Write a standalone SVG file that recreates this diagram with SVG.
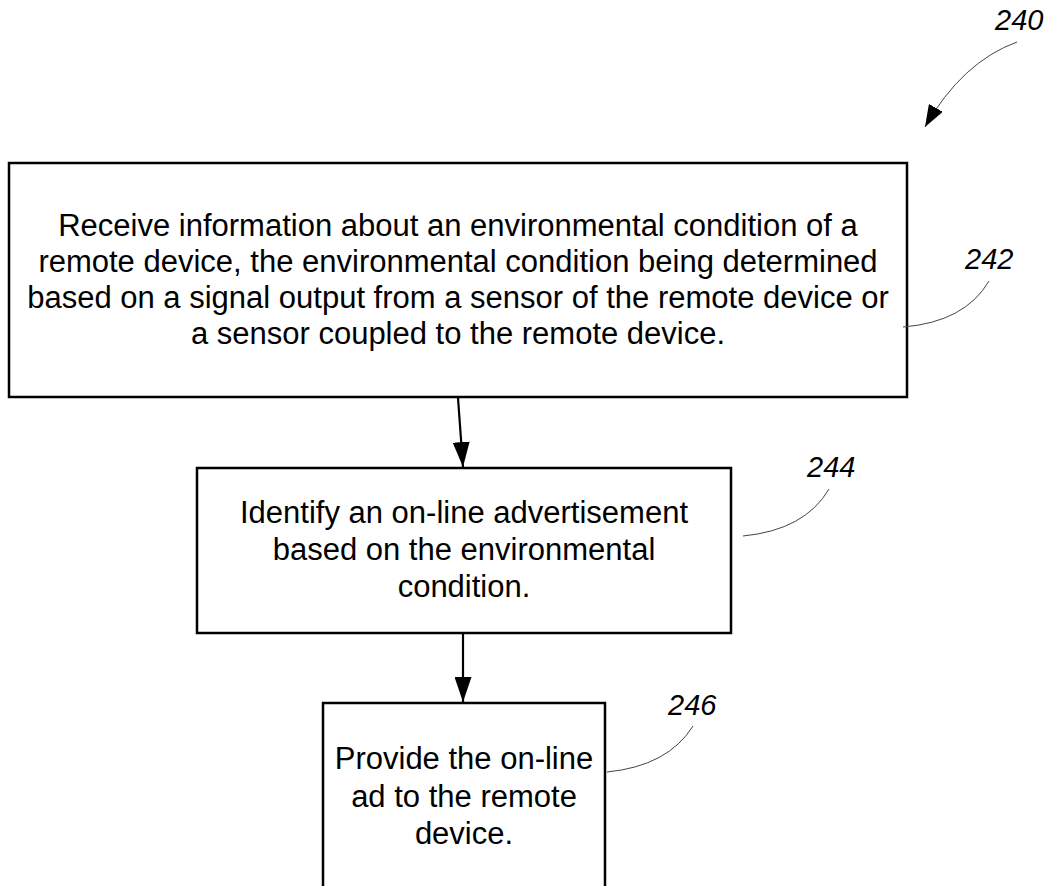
<svg xmlns="http://www.w3.org/2000/svg" width="1051" height="886" viewBox="0 0 1051 886">
<style>
.box{fill:#fff;stroke:#000;stroke-width:2.5}
.t{font-family:"Liberation Sans",Arial,sans-serif;font-size:31px;fill:#000;text-anchor:middle}
.lbl{font-family:"Liberation Sans",Arial,sans-serif;font-size:29px;font-style:italic;fill:#000}
.conn{fill:none;stroke:#000;stroke-width:2.2}
.lead{fill:none;stroke:#444;stroke-width:1}
</style>
<defs>
<marker id="ah" markerWidth="25" markerHeight="17" refX="25" refY="8.5" viewBox="0 0 25 17" markerUnits="userSpaceOnUse" orient="auto">
<path d="M0,0 L25,8.5 L0,17 Z" fill="#000"/>
</marker>
<marker id="ah2" markerWidth="22" markerHeight="16" refX="22" refY="8" viewBox="0 0 22 16" markerUnits="userSpaceOnUse" orient="auto">
<path d="M0,0 L22,8 L0,16 Z" fill="#000"/>
</marker>
</defs>
<g id="ref240">
<text class="lbl" x="995" y="30">240</text>
<path class="lead" d="M1017,42 Q962,62 925,127" marker-end="url(#ah2)"/>
</g>
<g id="n242">
<rect class="box" x="9" y="163" width="898" height="234"/>
<text class="t" x="458" y="236">Receive information about an environmental condition of a</text>
<text class="t" x="458" y="272">remote device, the environmental condition being determined</text>
<text class="t" x="458" y="308">based on a signal output from a sensor of the remote device or</text>
<text class="t" x="458" y="344">a sensor coupled to the remote device.</text>
<text class="lbl" x="965" y="269">242</text>
<path class="lead" d="M903,327 Q965,322 989,281"/>
</g>
<g id="n244">
<rect class="box" x="197" y="468" width="534" height="165"/>
<text class="t" x="464" y="523">Identify an on-line advertisement</text>
<text class="t" x="464" y="560">based on the environmental</text>
<text class="t" x="464" y="597">condition.</text>
<text class="lbl" x="807" y="477">244</text>
<path class="lead" d="M743,536 Q805,530 829,489"/>
</g>
<g id="n246">
<rect class="box" x="323" y="703" width="282" height="200"/>
<text class="t" x="464" y="769">Provide the on-line</text>
<text class="t" x="464" y="807">ad to the remote</text>
<text class="t" x="464" y="844">device.</text>
<text class="lbl" x="668" y="715">246</text>
<path class="lead" d="M607,772 Q668,766 693,726"/>
</g>
<g id="connectors">
<path class="conn" d="M458,398 L463,467" marker-end="url(#ah)"/>
<path class="conn" d="M463,634 L463,702" marker-end="url(#ah)"/>
</g>
</svg>
